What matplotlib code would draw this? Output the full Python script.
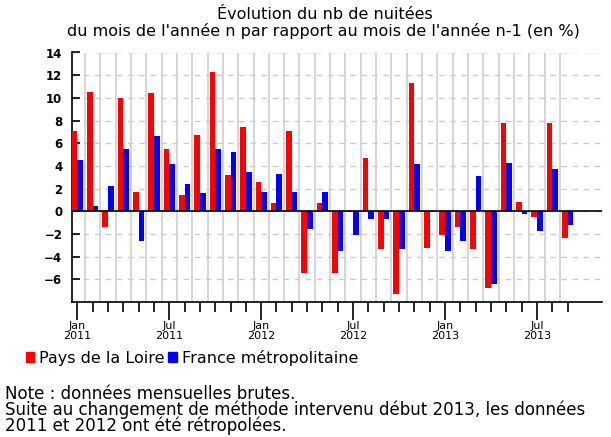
import numpy as np
import matplotlib
matplotlib.use("Agg")
import matplotlib.pyplot as plt
from matplotlib.patches import Patch

plt.rcParams['font.family'] = ['DejaVu Sans']

# months from Jan 2011 to Sep 2013
months = ["2011-01", "2011-02", "2011-03", "2011-04", "2011-05", "2011-06",
          "2011-07", "2011-08", "2011-09", "2011-10", "2011-11", "2011-12",
          "2012-01", "2012-02", "2012-03", "2012-04", "2012-05", "2012-06",
          "2012-07", "2012-08", "2012-09", "2012-10", "2012-11", "2012-12",
          "2013-01", "2013-02", "2013-03", "2013-04", "2013-05", "2013-06",
          "2013-07", "2013-08", "2013-09"]

# evolution in %
pays_loire = [7.1, 10.5, -1.4, 10.0, 1.7, 10.4, 5.5, 1.4, 6.7, 12.3, 3.2, 7.4,
              2.6, 0.7, 7.1, -5.4, 0.7, -5.4, -0.1, 4.7, -3.3, -7.3, 11.3, -3.2,
              -2.1, -1.4, -3.3, -6.8, 7.8, 0.8, -0.5, 7.8, -2.4]
france_metro = [4.5, 0.5, 2.2, 5.5, -2.6, 6.6, 4.2, 2.4, 1.6, 5.5, 5.2, 3.5,
                1.7, 3.3, 1.7, -1.6, 1.7, -3.5, -2.1, -0.7, -0.7, -3.3, 4.2, -0.1,
                -3.5, -2.6, 3.1, -6.4, 4.3, -0.2, -1.7, 3.7, -1.2]

major_labels = ["Jan\n2011", "Jul\n2011", "Jan\n2012", "Jul\n2012", "Jan\n2013", "Jul\n2013"]
yticks = [-6, -4, -2, 0, 2, 4, 6, 8, 10, 12, 14]

fig = plt.figure(figsize=(6.11, 4.37), dpi=100)
ax = fig.add_axes([72 / 611, (437 - 302) / 437, (602 - 72) / 611, (302 - 52.5) / 437])

x = np.arange(len(months))
w = 0.37
ax.bar(x, pays_loire, width=-w, align='edge', color='#ff0000', zorder=3)
ax.bar(x, france_metro, width=w, align='edge', color='#0000ff', zorder=3)

# grid: vertical lines between months, dashed horizontal lines
for b in x[:-1] + 0.5:
    ax.axvline(b, color='#d6d6d6', lw=1.4, zorder=1)
for y in yticks + [14]:
    ax.axhline(y, color='#cccccc', lw=1.0, ls=(0, (4, 4)), zorder=1)
ax.axhline(0, color='black', lw=1.2, zorder=4)

ax.set_xlim(-0.35, 34.25)
ax.set_ylim(-8, 14)

for s in ['top', 'right']:
    ax.spines[s].set_visible(False)
ax.spines['left'].set_linewidth(1.2)
ax.spines['bottom'].set_linewidth(1.2)

ax.set_yticks(yticks)
ax.set_yticklabels([str(v) if v >= 0 else "\u2212" + str(-v) for v in yticks],
                   fontsize=8.5, fontweight='bold')
ax.tick_params(axis='y', direction='in', length=6, width=1.2, pad=7)

ax.set_xticks(x[::6])
ax.set_xticklabels(major_labels, fontsize=8, linespacing=0.95)
ax.set_xticks(x, minor=True)
ax.tick_params(axis='x', which='major', direction='out', length=13, width=1.2, pad=1)
ax.tick_params(axis='x', which='minor', direction='out', length=7, width=1.2)

fig.text(0.531, 0.966, "Évolution du nb de nuitées", ha='center', va='center', fontsize=11.5)
fig.text(0.530, 0.929, "du mois de l'année n par rapport au mois de l'année n-1 (en %)",
         ha='center', va='center', fontsize=11.5)

handles = [Patch(color='#ff0000'), Patch(color='#0000ff')]
fig.legend(handles, ["Pays de la Loire", "France métropolitaine"], loc='center left',
           bbox_to_anchor=(0.042, 0.181), ncol=2, frameon=False, fontsize=11.5,
           handlelength=0.55, handleheight=0.55, handletextpad=0.3, columnspacing=0.2,
           borderaxespad=0, borderpad=0)

fig.text(0.008, 0.062, "Note : données mensuelles brutes.\n"
         "Suite au changement de méthode intervenu début 2013, les données\n"
         "2011 et 2012 ont été rétropolées.", ha='left', va='center',
         fontsize=12, linespacing=0.8)

fig.savefig("out.png", dpi=100)
